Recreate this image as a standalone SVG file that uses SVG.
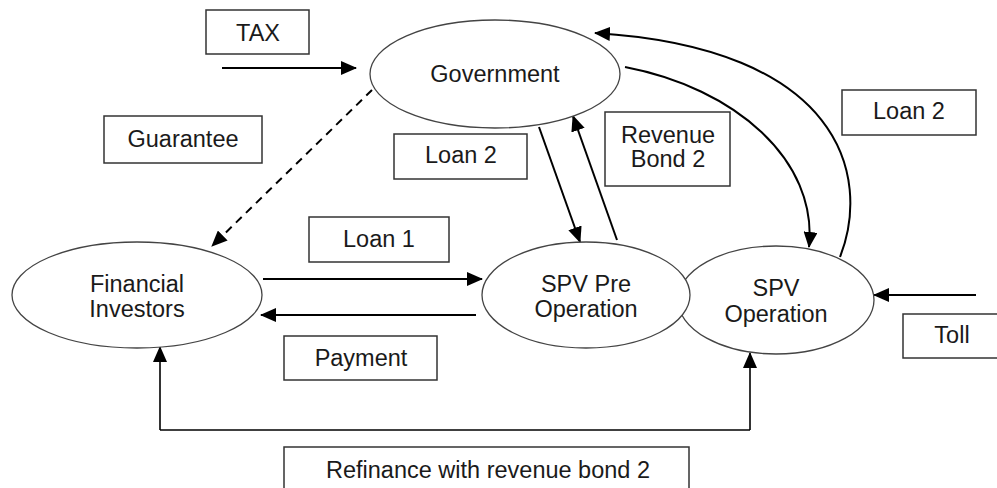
<svg xmlns="http://www.w3.org/2000/svg" width="997" height="488" viewBox="0 0 997 488">
<style>
  .node ellipse { fill: #fff; stroke: #444; stroke-width: 1.3; }
  .lbl rect { fill: #fff; stroke: #333; stroke-width: 1.5; }
  text { font-family: "Liberation Sans", Arial, sans-serif; font-size: 23.5px; fill: #1a1a1a; text-anchor: middle; }
  .conn path, .conn line { fill: none; stroke: #000; stroke-width: 2; }
  .conn .thin { stroke-width: 1.6; }
  .dash { stroke-dasharray: 8 6; }
</style>
<defs>
  <marker id="arr" markerUnits="userSpaceOnUse" markerWidth="16" markerHeight="14" viewBox="0 0 16 14" refX="15" refY="7" orient="auto">
    <path d="M0,0 L16,7 L0,14 Z" fill="#000"/>
  </marker>
</defs>
<rect width="997" height="488" fill="#fff"/>

<g id="connectors" class="conn">
  <line x1="222" y1="68" x2="356" y2="68" marker-end="url(#arr)"/>
  <line class="dash" x1="372" y1="90" x2="212" y2="246" marker-end="url(#arr)"/>
  <line x1="263" y1="279" x2="482" y2="279" marker-end="url(#arr)"/>
  <line x1="476" y1="315" x2="261" y2="315" marker-end="url(#arr)"/>
  <line x1="539" y1="127" x2="580" y2="242" marker-end="url(#arr)"/>
  <line x1="617" y1="240" x2="573" y2="116" marker-end="url(#arr)"/>
  <path d="M625,67 C735,88 818,160 809,247" marker-end="url(#arr)"/>
  <path d="M840,257 C872,175 840,48 595,33" marker-end="url(#arr)"/>
  <line x1="976" y1="295" x2="874" y2="295" marker-end="url(#arr)"/>
  <path class="thin" d="M160,430 L750,430"/>
  <line class="thin" x1="160" y1="430" x2="160" y2="347" marker-end="url(#arr)"/>
  <line class="thin" x1="750" y1="430" x2="750" y2="353" marker-end="url(#arr)"/>
</g>

<g id="government" class="node">
  <ellipse cx="495" cy="74" rx="125" ry="54"/>
  <text x="495" y="82">Government</text>
</g>
<g id="financial-investors" class="node">
  <ellipse cx="137" cy="295" rx="125" ry="53"/>
  <text x="137" y="292">Financial</text>
  <text x="137" y="317">Investors</text>
</g>
<g id="spv-operation" class="node">
  <ellipse cx="776" cy="300" rx="98" ry="54"/>
  <text x="776" y="296">SPV</text>
  <text x="776" y="322">Operation</text>
</g>
<g id="spv-pre-operation" class="node">
  <ellipse cx="586" cy="295" rx="104" ry="53"/>
  <text x="586" y="292">SPV Pre</text>
  <text x="586" y="317">Operation</text>
</g>

<g id="label-tax" class="lbl">
  <rect x="206" y="10" width="103" height="44"/>
  <text x="258" y="41">TAX</text>
</g>
<g id="label-guarantee" class="lbl">
  <rect x="104" y="116" width="158" height="47"/>
  <text x="183" y="147">Guarantee</text>
</g>
<g id="label-loan2-left" class="lbl">
  <rect x="394" y="134" width="133" height="45"/>
  <text x="461" y="163">Loan 2</text>
</g>
<g id="label-revenue-bond2" class="lbl">
  <rect x="605" y="112" width="125" height="74"/>
  <text x="668" y="143">Revenue</text>
  <text x="668" y="167">Bond 2</text>
</g>
<g id="label-loan2-right" class="lbl">
  <rect x="842" y="90" width="134" height="45"/>
  <text x="909" y="119">Loan 2</text>
</g>
<g id="label-loan1" class="lbl">
  <rect x="309" y="217" width="140" height="45"/>
  <text x="379" y="247">Loan 1</text>
</g>
<g id="label-payment" class="lbl">
  <rect x="284" y="336" width="153" height="44"/>
  <text x="361" y="366">Payment</text>
</g>
<g id="label-toll" class="lbl">
  <rect x="903" y="314" width="100" height="44"/>
  <text x="952" y="343">Toll</text>
</g>
<g id="label-refinance" class="lbl">
  <rect x="284" y="447" width="405" height="50"/>
  <text x="488" y="478">Refinance with revenue bond 2</text>
</g>
</svg>
